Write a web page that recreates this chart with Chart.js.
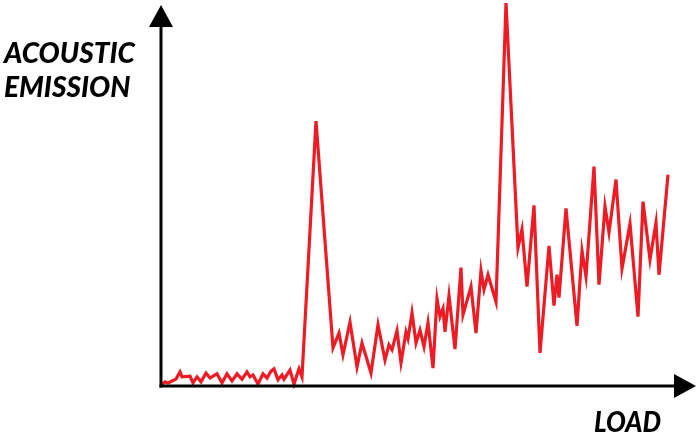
<!DOCTYPE html>
<html>
<head>
<meta charset="utf-8">
<script src="https://cdn.jsdelivr.net/npm/chart.js@4/dist/chart.umd.min.js"></script>
<style>
  html, body { margin: 0; padding: 0; background: #ffffff; }
  #wrap { width: 698px; height: 442px; }
</style>
</head>
<body>
<div id="wrap"><canvas id="chart" width="698" height="442"></canvas></div>
<script>
// Load (x) and acoustic emission (y) readings, arbitrary units
const loadValues = [
  0, 0.8, 1.4, 2.2, 3.0, 3.8, 4.2, 5.8, 6.4, 7.2, 8.0, 9.0, 9.8, 11.2, 12.2, 13.2,
  14.2, 15.2, 16.2, 17.2, 17.8, 18.4, 19.4, 20.4, 21.2, 22.0, 22.6, 23.4, 24.2, 24.6,
  25.8, 26.6, 27.6, 28.2, 31.0, 34.4, 35.6, 36.4, 37.8, 39.2, 40.2, 42.0, 43.4, 44.8,
  45.6, 46.2, 47.2, 48.0, 49.0, 49.4, 50.2, 51.0, 51.8, 52.6, 53.4, 54.4, 55.2, 55.8,
  56.4, 56.8, 57.6, 58.8, 60.0, 60.4, 62.0, 63.0, 64.0, 64.6, 65.4, 67.0, 69.0, 71.4,
  72.2, 73.2, 74.6, 75.8, 77.6, 78.6, 79.2, 79.6, 81.0, 83.2, 84.2, 85.0, 86.6, 87.6,
  88.8, 89.6, 91.0, 92.2, 93.8, 95.4, 96.4, 97.8, 99.0, 99.6, 101.4
];
const emissionValues = [
  0, 1.1, 0.8, 1.3, 1.8, 3.7, 2.4, 2.6, 0.8, 2.4, 1.1, 3.4, 2.1, 3.2, 0.8, 3.2,
  1.3, 3.2, 1.8, 3.7, 2.4, 2.9, 0.5, 3.2, 2.1, 3.9, 4.5, 1.6, 2.9, 1.8,
  4.2, 0.5, 4.5, 2.4, 69.5, 10.0, 13.9, 8.2, 16.8, 5.0, 11.3, 3.4, 16.1, 6.8,
  10.8, 9.5, 14.5, 6.1, 14.2, 12.4, 19.2, 11.3, 14.7, 10.3, 16.6, 4.7, 22.9, 18.2,
  20.3, 14.2, 23.7, 9.7, 31.1, 18.7, 26.1, 13.9, 30.3, 25.3, 29.2, 22.1, 100.5, 36.3,
  41.1, 26.1, 47.4, 8.7, 36.8, 21.1, 29.2, 23.2, 46.6, 15.8, 35.5, 28.7, 57.6, 26.6,
  47.1, 40.3, 54.2, 30.8, 42.6, 18.2, 48.4, 33.2, 42.9, 29.2, 55.5
];

// Axis titles
const yAxisTitle = ['ACOUSTIC', 'EMISSION'];
const xAxisTitle = 'LOAD';

const points = loadValues.map((x, i) => ({ x: x, y: emissionValues[i] }));

// Draws the arrowed axes and their titles
const arrowAxes = {
  id: 'arrowAxes',
  afterDatasetsDraw(chart) {
    const ctx = chart.ctx;
    const xs = chart.scales.x, ys = chart.scales.y;
    const x0 = xs.getPixelForValue(0);
    const y0 = ys.getPixelForValue(0);
    const xEnd = xs.getPixelForValue(xs.max);
    const yEnd = ys.getPixelForValue(ys.max);
    const head = 22, half = 12;
    ctx.save();
    ctx.strokeStyle = '#000000';
    ctx.fillStyle = '#000000';
    ctx.lineWidth = 3;
    ctx.lineCap = 'butt';
    // y axis
    ctx.beginPath();
    ctx.moveTo(x0, y0 + 1.5);
    ctx.lineTo(x0, yEnd + head);
    ctx.stroke();
    ctx.beginPath();
    ctx.moveTo(x0, yEnd);
    ctx.lineTo(x0 - half, yEnd + head);
    ctx.lineTo(x0 + half, yEnd + head);
    ctx.closePath();
    ctx.fill();
    // x axis
    ctx.beginPath();
    ctx.moveTo(x0 - 1.5, y0);
    ctx.lineTo(xEnd - head, y0);
    ctx.stroke();
    ctx.beginPath();
    ctx.moveTo(xEnd, y0);
    ctx.lineTo(xEnd - head, y0 - half);
    ctx.lineTo(xEnd - head, y0 + half);
    ctx.closePath();
    ctx.fill();
    // titles
    ctx.font = 'italic 900 28px Lato, "Open Sans", sans-serif';
    ctx.textBaseline = 'alphabetic';
    ctx.textAlign = 'left';
    ctx.fillText(yAxisTitle[0], 4, 63, 133);
    ctx.fillText(yAxisTitle[1], 4, 97, 133);
    ctx.textAlign = 'right';
    ctx.fillText(xAxisTitle, 661, 432, 67);
    ctx.restore();
  }
};

new Chart(document.getElementById('chart'), {
  type: 'line',
  data: {
    datasets: [{
      data: points,
      borderColor: '#ED1C24',
      borderWidth: 3.2,
      pointRadius: 0,
      tension: 0,
      fill: false,
      clip: false,
      borderJoinStyle: 'miter'
    }]
  },
  options: {
    responsive: false,
    animation: false,
    layout: { padding: { left: 161, right: 2, top: 5, bottom: 56 } },
    plugins: { legend: { display: false }, tooltip: { enabled: false }, title: { display: false } },
    scales: {
      x: { type: 'linear', min: 0, max: 107, display: false },
      y: { type: 'linear', min: 0, max: 100, display: false }
    }
  },
  plugins: [arrowAxes]
});
</script>
</body>
</html>
